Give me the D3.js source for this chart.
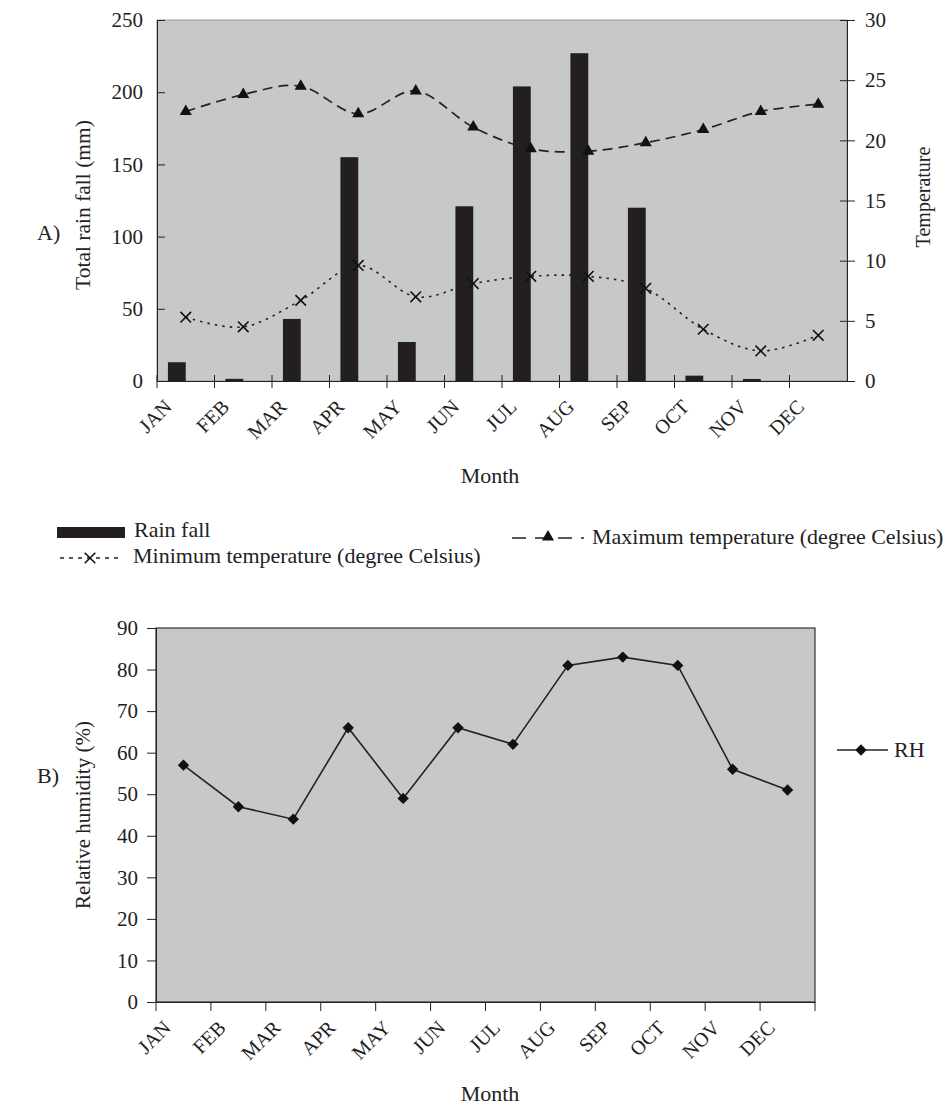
<!DOCTYPE html>
<html>
<head>
<meta charset="utf-8">
<script src="https://cdn.jsdelivr.net/npm/d3@7"></script>
<style>
  body { margin: 0; background: #fff; }
  svg text { font-family: "Liberation Serif", "Times New Roman", serif; fill: #222; }
</style>
</head>
<body>
<svg width="949" height="1109"></svg>
<script>

// DATA

var months = ["JAN", "FEB", "MAR", "APR", "MAY", "JUN", "JUL", "AUG", "SEP", "OCT", "NOV", "DEC"];

// Total rain fall (mm), left axis of chart A
var rainfall = [13, 1.5, 43, 155, 27, 121, 204, 227, 120, 3.7, 1.4, 0];

// Temperatures (degree Celsius), right axis of chart A
var maxTemp = [22.4, 23.8, 24.5, 22.2, 24.1, 21.1, 19.3, 19.1, 19.8, 20.9, 22.4, 23.0];
var minTemp = [5.3, 4.5, 6.7, 9.6, 7.0, 8.1, 8.7, 8.7, 7.7, 4.3, 2.5, 3.8];

// Relative humidity (%), chart B
var rh = [57, 47, 44, 66, 49, 66, 62, 81, 83, 81, 56, 51];

var rainTicks = [0, 50, 100, 150, 200, 250];
var tempTicks = [0, 5, 10, 15, 20, 25, 30];
var rhTicks = [0, 10, 20, 30, 40, 50, 60, 70, 80, 90];

// VIEW

var svg = d3.select("svg"),
    plotFill = "#c7c8ca",
    ink = "#222",
    tickFont = 21,
    textFont = 22;

// ---------- Chart A ----------

var a = { left: 157, right: 847, top: 20, bottom: 381 };

var xA = d3.scaleBand().domain(months).range([a.left, a.right]);
var yRain = d3.scaleLinear().domain([0, 250]).range([a.bottom, a.top]);
var yTemp = d3.scaleLinear().domain([0, 30]).range([a.bottom, a.top]);

svg.append("rect")
    .attr("x", a.left).attr("y", a.top)
    .attr("width", a.right - a.left).attr("height", a.bottom - a.top)
    .attr("fill", plotFill)
    .attr("stroke", "#999").attr("stroke-width", 1);

// bars sit just left of each month's centre
var barW = xA.bandwidth() * 0.31;
svg.append("g").selectAll("rect")
    .data(rainfall)
    .join("rect")
      .attr("x", function(d, i) { return xA(months[i]) + xA.bandwidth() / 2 - barW; })
      .attr("y", function(d) { return yRain(d); })
      .attr("width", barW)
      .attr("height", function(d) { return a.bottom - yRain(d); })
      .attr("fill", "#231f20");

// axes
var leftA = svg.append("g")
    .attr("transform", "translate(" + a.left + ",0)")
    .call(d3.axisLeft(yRain).tickValues(rainTicks).tickSizeInner(7).tickSizeOuter(0).tickPadding(7));

var rightA = svg.append("g")
    .attr("transform", "translate(" + a.right + ",0)")
    .call(d3.axisRight(yTemp).tickValues(tempTicks).tickSizeInner(8).tickSizeOuter(0).tickPadding(10));

svg.append("g")
    .attr("transform", "translate(0," + a.bottom + ")")
    .call(d3.axisBottom(xA).tickSize(0).tickFormat(""));

// month boundary ticks crossing the axis
svg.append("g").selectAll("line")
    .data(months)
    .join("line")
      .attr("x1", function(d) { return xA(d); })
      .attr("x2", function(d) { return xA(d); })
      .attr("y1", a.bottom - 6).attr("y2", a.bottom + 7)
      .attr("stroke", ink);

// left & right ticks cross the axis too
leftA.selectAll(".tick line").attr("x2", 8);
rightA.selectAll(".tick line").attr("x1", -7);

monthLabels(svg, xA, a.bottom);

// lines
var lineTemp = function(vals) {
  return d3.line()
    .x(function(d, i) { return xA(months[i]) + xA.bandwidth() / 2; })
    .y(function(d) { return yTemp(d); })
    .curve(d3.curveCatmullRom.alpha(0))(vals);
};

svg.append("path")
    .attr("d", lineTemp(maxTemp))
    .attr("fill", "none").attr("stroke", ink)
    .attr("stroke-width", 1.7).attr("stroke-dasharray", "10,6");

svg.append("path")
    .attr("d", lineTemp(minTemp))
    .attr("fill", "none").attr("stroke", ink)
    .attr("stroke-width", 1.6).attr("stroke-dasharray", "2.5,5");

var tri = d3.symbol().type(d3.symbolTriangle).size(64);
svg.append("g").selectAll("path")
    .data(maxTemp)
    .join("path")
      .attr("transform", function(d, i) {
        return "translate(" + (xA(months[i]) + xA.bandwidth() / 2) + "," + yTemp(d) + ")";
      })
      .attr("d", tri())
      .attr("fill", "#111");

var cross = d3.symbol().type(d3.symbolX).size(75);
svg.append("g").selectAll("path")
    .data(minTemp)
    .join("path")
      .attr("transform", function(d, i) {
        return "translate(" + (xA(months[i]) + xA.bandwidth() / 2) + "," + yTemp(d) + ")";
      })
      .attr("d", cross())
      .attr("fill", "none").attr("stroke", "#111").attr("stroke-width", 1.6);

// titles
svg.append("text")
    .attr("transform", "translate(90,205) rotate(-90)")
    .attr("text-anchor", "middle").attr("font-size", 21.5)
    .text("Total rain fall (mm)");

svg.append("text")
    .attr("transform", "translate(930,197) rotate(-90)")
    .attr("text-anchor", "middle").attr("font-size", 20)
    .text("Temperature");

svg.append("text")
    .attr("x", 490).attr("y", 483)
    .attr("text-anchor", "middle").attr("font-size", textFont)
    .text("Month");

svg.append("text")
    .attr("x", 37).attr("y", 240)
    .attr("font-size", textFont)
    .text("A)");

// legend A
var legA = svg.append("g");
legA.append("rect")
    .attr("x", 57).attr("y", 527).attr("width", 68).attr("height", 11)
    .attr("fill", "#231f20");
legA.append("text").attr("x", 134).attr("y", 537).attr("font-size", textFont).text("Rain fall");

legA.append("line")
    .attr("x1", 60).attr("x2", 122).attr("y1", 558).attr("y2", 558)
    .attr("stroke", ink).attr("stroke-width", 1.6).attr("stroke-dasharray", "4,5");
legA.append("path")
    .attr("transform", "translate(90,558)")
    .attr("d", cross()).attr("fill", "none").attr("stroke", "#111").attr("stroke-width", 1.6);
legA.append("text").attr("x", 133).attr("y", 563).attr("font-size", textFont)
    .text("Minimum temperature (degree Celsius)");

legA.append("line")
    .attr("x1", 512).attr("x2", 584).attr("y1", 538).attr("y2", 538)
    .attr("stroke", ink).attr("stroke-width", 1.6).attr("stroke-dasharray", "14,9");
legA.append("path")
    .attr("transform", "translate(548,537)")
    .attr("d", tri()).attr("fill", "#111");
legA.append("text").attr("x", 592).attr("y", 544).attr("font-size", textFont)
    .text("Maximum temperature (degree Celsius)");

// ---------- Chart B ----------

var b = { left: 156, right: 815, top: 628, bottom: 1002 };

var xB = d3.scaleBand().domain(months).range([b.left, b.right]);
var yRH = d3.scaleLinear().domain([0, 90]).range([b.bottom, b.top]);

svg.append("rect")
    .attr("x", b.left).attr("y", b.top)
    .attr("width", b.right - b.left).attr("height", b.bottom - b.top)
    .attr("fill", plotFill)
    .attr("stroke", "#333").attr("stroke-width", 1.2);

svg.append("g")
    .attr("transform", "translate(" + b.left + ",0)")
    .call(d3.axisLeft(yRH).tickValues(rhTicks).tickSizeInner(9).tickSizeOuter(0).tickPadding(9));

svg.append("g")
    .attr("transform", "translate(0," + b.bottom + ")")
    .call(d3.axisBottom(xB).tickSize(0).tickFormat(""));

svg.append("g").selectAll("line")
    .data(months.concat(["end"]))
    .join("line")
      .attr("x1", function(d, i) { return b.left + i * xB.bandwidth(); })
      .attr("x2", function(d, i) { return b.left + i * xB.bandwidth(); })
      .attr("y1", b.bottom).attr("y2", b.bottom + 9)
      .attr("stroke", ink);

monthLabels(svg, xB, b.bottom);

var rhLine = d3.line()
    .x(function(d, i) { return xB(months[i]) + xB.bandwidth() / 2; })
    .y(function(d) { return yRH(d); });

svg.append("path")
    .attr("d", rhLine(rh))
    .attr("fill", "none").attr("stroke", "#222").attr("stroke-width", 1.6);

var diamond = d3.symbol().type(d3.symbolSquare).size(65);
svg.append("g").selectAll("path")
    .data(rh)
    .join("path")
      .attr("transform", function(d, i) {
        return "translate(" + (xB(months[i]) + xB.bandwidth() / 2) + "," + yRH(d) + ") rotate(45)";
      })
      .attr("d", diamond())
      .attr("fill", "#111");

svg.append("text")
    .attr("transform", "translate(90,815) rotate(-90)")
    .attr("text-anchor", "middle").attr("font-size", 21)
    .text("Relative humidity (%)");

svg.append("text")
    .attr("x", 490).attr("y", 1101)
    .attr("text-anchor", "middle").attr("font-size", textFont)
    .text("Month");

svg.append("text")
    .attr("x", 37).attr("y", 783)
    .attr("font-size", textFont)
    .text("B)");

// legend B
svg.append("line")
    .attr("x1", 837).attr("x2", 888).attr("y1", 750).attr("y2", 750)
    .attr("stroke", "#222").attr("stroke-width", 1.6);
svg.append("path")
    .attr("transform", "translate(861,750) rotate(45)")
    .attr("d", diamond()).attr("fill", "#111");
svg.append("text").attr("x", 894).attr("y", 757).attr("font-size", textFont).text("RH");

// shared styling of the axes
svg.selectAll(".domain").attr("stroke", ink);
svg.selectAll(".tick line").attr("stroke", ink);
svg.selectAll(".tick text")
    .attr("font-family", "Liberation Serif, serif")
    .attr("font-size", tickFont)
    .attr("fill", "#222");

// rotated month labels, hung off the left boundary of each month
function monthLabels(sel, x, y0) {
  sel.append("g").selectAll("text")
      .data(months)
      .join("text")
        .attr("transform", function(d) {
          return "translate(" + (x(d) + 16) + "," + (y0 + 27) + ") rotate(-45)";
        })
        .attr("text-anchor", "end")
        .attr("font-size", 20)
        .text(function(d) { return d; });
}

</script>
</body>
</html>
